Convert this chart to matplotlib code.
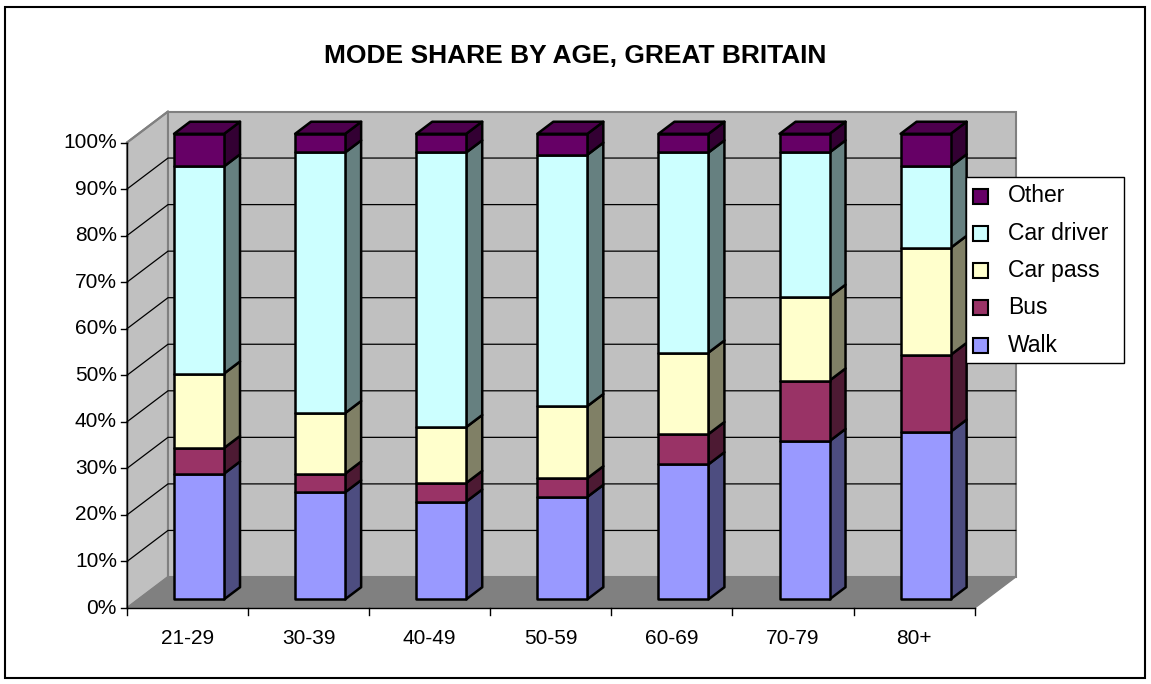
import matplotlib.pyplot as plt
from matplotlib.patches import Polygon, Rectangle

plt.rcParams['font.family'] = ['Liberation Sans', 'DejaVu Sans']

ages = ['21-29', '30-39', '40-49', '50-59', '60-69', '70-79', '80+']
modes = ['Walk', 'Bus', 'Car pass', 'Car driver', 'Other']
walk = [27, 23, 21, 22, 29, 34, 36]
bus = [5.5, 4, 4, 4, 6.5, 13, 16.5]
car_pass = [16, 13, 12, 15.5, 17.5, 18, 23]
car_driver = [44.5, 56, 59, 54, 43, 31, 17.5]
other = [7, 4, 4, 4.5, 4, 4, 7]
yticks = [0, 10, 20, 30, 40, 50, 60, 70, 80, 90, 100]

front_col = ['#9999FF', '#993366', '#FFFFCC', '#CCFFFF', '#660066']
side_col = ['#4D4D80', '#4D1A33', '#808066', '#668080', '#330033']
top_col = ['#7373BF', '#73264D', '#BFBF99', '#99BFBF', '#4D004D']

# pseudo-3d projection (screen pixels)
X0, Y0 = 127, 608
CW = 121.1        # width of one category
VS = 4.655        # pixels per percent
DX, DY = 41, 31   # depth offset of back wall
D0, D1 = 0.28, 0.67
HALF = 0.2065


def P(x, v, d):
    return (X0 + x * CW + d * DX, Y0 - v * VS - d * DY)


fig = plt.figure(figsize=(11.51, 6.84), dpi=100)
ax = fig.add_axes([0, 0, 1, 1])
ax.set_xlim(0, 1151)
ax.set_ylim(684, 0)
ax.axis('off')

n = len(ages)
# walls and floor
left_wall = [P(0, 100, 0), P(0, 100, 1), P(0, 0, 1), P(0, 0, 0)]
back_wall = [P(0, 100, 1), P(n, 100, 1), P(n, 0, 1), P(0, 0, 1)]
floor = [P(0, 0, 0), P(n, 0, 0), P(n, 0, 1), P(0, 0, 1)]
ax.add_patch(Polygon(left_wall, closed=True, fc='#C0C0C0', ec='#808080', lw=1.5, zorder=1))
ax.add_patch(Polygon(back_wall, closed=True, fc='#C0C0C0', ec='#808080', lw=1.5, zorder=1))
ax.add_patch(Polygon(floor, closed=True, fc='#808080', ec='#808080', lw=1, zorder=1))

for v in yticks[1:-1]:
    a, b, c = P(0, v, 0), P(0, v, 1), P(n, v, 1)
    ax.plot([a[0], b[0], c[0]], [a[1], b[1], c[1]], color='black', lw=0.9, zorder=2)
a, b = P(0, 100, 0), P(0, 100, 1)
ax.plot([a[0], b[0]], [a[1], b[1]], color='#808080', lw=1.5, zorder=2)

# value axis
ax.plot([X0, X0], [P(0, 0, 0)[1], P(0, 100, 0)[1]], color='black', lw=1, zorder=2)
for v in yticks:
    y = P(0, v, 0)[1]
    ax.plot([X0 - 6, X0], [y, y], color='black', lw=1)
    ax.text(X0 - 10, y, '%d%%' % v, ha='right', va='center', fontsize=15)

# category axis
ax.plot([X0, P(n, 0, 0)[0]], [Y0, Y0], color='black', lw=1, zorder=2)
for i in range(n + 1):
    x = P(i, 0, 0)[0]
    ax.plot([x, x], [Y0, Y0 + 7], color='black', lw=1)
for i, lab in enumerate(ages):
    ax.text(P(i + 0.5, 0, 0)[0], 638, lab, ha='center', va='center', fontsize=15)

# stacked bars
series = [walk, bus, car_pass, car_driver, other]
for i in range(n):
    xl, xr = i + 0.5 - HALF, i + 0.5 + HALF
    base = 0
    for k, vals in enumerate(series):
        top = base + vals[i]
        front = [P(xl, base, D0), P(xr, base, D0), P(xr, top, D0), P(xl, top, D0)]
        side = [P(xr, base, D0), P(xr, base, D1), P(xr, top, D1), P(xr, top, D0)]
        ax.add_patch(Polygon(side, closed=True, fc=side_col[k], ec='black', lw=1.8,
                             joinstyle='round', zorder=3))
        ax.add_patch(Polygon(front, closed=True, fc=front_col[k], ec='black', lw=1.8,
                             joinstyle='round', zorder=3))
        if k == len(series) - 1:
            cap = [P(xl, top, D0), P(xr, top, D0), P(xr, top, D1), P(xl, top, D1)]
            ax.add_patch(Polygon(cap, closed=True, fc=top_col[k], ec='black', lw=1.8,
                                 joinstyle='round', zorder=3))
        base = top

# legend
ax.add_patch(Rectangle((966, 177), 158, 186, fc='white', ec='black', lw=1, zorder=5))
rows = [196, 233, 270, 307, 345]
for k, y in zip(range(len(modes) - 1, -1, -1), rows):
    ax.add_patch(Rectangle((973, y - 7.5), 15, 15, fc=front_col[k], ec='black', lw=1.5, zorder=6))
    ax.text(1008, y, modes[k], ha='left', va='center', fontsize=16.5, zorder=6)

ax.text(575, 56, 'MODE SHARE BY AGE, GREAT BRITAIN', ha='center', va='center',
        fontsize=19, fontweight='bold')

ax.add_patch(Rectangle((5, 7), 1140, 671, fc='none', ec='black', lw=1.5, zorder=7))

fig.savefig('out.png', dpi=100)
